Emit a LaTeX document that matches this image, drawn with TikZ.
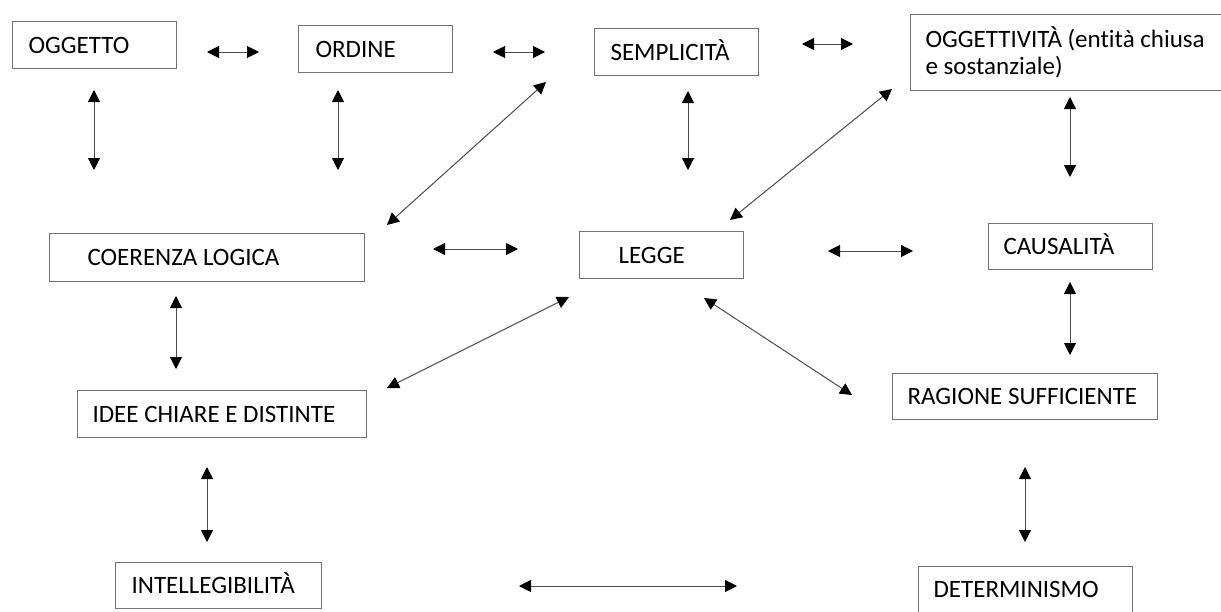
\documentclass[tikz,border=0pt]{standalone}
\usepackage{fontspec}
\setmainfont{Carlito}[Ligatures=NoCommon]
\usetikzlibrary{arrows.meta}
\definecolor{boxline}{gray}{0.45}
\definecolor{arrowline}{gray}{0.3}

\begin{document}
\begin{tikzpicture}[x=1pt, y=-1pt, >={Triangle[length=12pt, width=12pt, color=black]},
    box/.style={draw=boxline, line width=1.1pt, anchor=north west, align=flush left,
        font=\fontsize{25}{27}\selectfont, text height=16pt, text depth=0pt, minimum height=47pt},
    link/.style={<->, draw=arrowline, line width=1pt}]
    \useasboundingbox (0,0) rectangle (1221,611);
    \clip (0,0) rectangle (1221,611);

    \node[box, inner xsep=16pt, text width=132pt] (ogg) at (12,21) {OGGETTO};
    \node[box, inner xsep=17pt, text width=120pt] (ord) at (298,25) {ORDINE};
    \node[box, inner xsep=16pt, text width=132pt] (sem) at (594,28) {SEMPLICITÀ};
    \node[box, inner xsep=15pt, text width=300pt, text depth=27pt, minimum height=76pt] (obj) at (910,14)
        {OGGETTIVITÀ (entità chiusa\\e sostanziale)};
    \node[box, inner xsep=38pt, text width=239pt, minimum height=48pt] (coe) at (49,233) {COERENZA LOGICA};
    \node[box, inner xsep=39pt, text width=86pt] (leg) at (579,231) {LEGGE};
    \node[box, inner xsep=15pt, text width=134pt, minimum height=46pt] (cau) at (988,223) {CAUSALITÀ};
    \node[box, inner xsep=15pt, text width=259pt] (ide) at (77,390) {IDEE CHIARE E DISTINTE};
    \node[box, inner xsep=15pt, text width=235pt, minimum height=46pt] (rag) at (892,373) {RAGIONE SUFFICIENTE};
    \node[box, inner xsep=16pt, text width=174pt, minimum height=46pt] (int) at (115,562) {INTELLEGIBILITÀ};
    \node[box, inner xsep=15pt, text width=184pt, minimum height=46pt] (det) at (918,566) {DETERMINISMO};

    % arrow ends: (pq) lies next to box p, facing box q
    \coordinate (oggord) at (207,52);  \coordinate (ordogg) at (259,52);
    \coordinate (ordsem) at (493,52);  \coordinate (semord) at (545,52);
    \coordinate (semobj) at (802,44);  \coordinate (objsem) at (853,44);
    \coordinate (oggcoe) at (94,90);   \coordinate (coeogg) at (94,170);
    \coordinate (ordcoe) at (338,90);  \coordinate (coeord) at (338,170);
    \coordinate (semleg) at (688,91);  \coordinate (legsem) at (688,170);
    \coordinate (objcau) at (1070,97); \coordinate (cauobj) at (1070,177);
    \coordinate (coesem) at (387,225); \coordinate (semcoe) at (546,82);
    \coordinate (legobj) at (730,220); \coordinate (objleg) at (892,89);
    \coordinate (coeleg) at (433,249); \coordinate (legcoe) at (518,249);
    \coordinate (legcau) at (828,251); \coordinate (cauleg) at (913,251);
    \coordinate (coeide) at (176,296); \coordinate (idecoe) at (176,369);
    \coordinate (ideleg) at (387,388); \coordinate (legide) at (569,297);
    \coordinate (legrag) at (704,298); \coordinate (ragleg) at (852,395);
    \coordinate (caurag) at (1070,282); \coordinate (ragcau) at (1070,355);
    \coordinate (ideint) at (207,467); \coordinate (intide) at (207,542);
    \coordinate (intdet) at (519,586); \coordinate (detint) at (737,586);
    \coordinate (ragdet) at (1025,467); \coordinate (detrag) at (1025,542);

    \foreach \p/\q in {ogg/ord, ord/sem, sem/obj, ogg/coe, ord/coe, sem/leg, obj/cau,
        coe/sem, leg/obj, coe/leg, leg/cau, coe/ide, ide/leg, leg/rag, cau/rag,
        ide/int, int/det, rag/det}
        \draw[link] (\p\q) -- (\q\p);
\end{tikzpicture}
\end{document}
